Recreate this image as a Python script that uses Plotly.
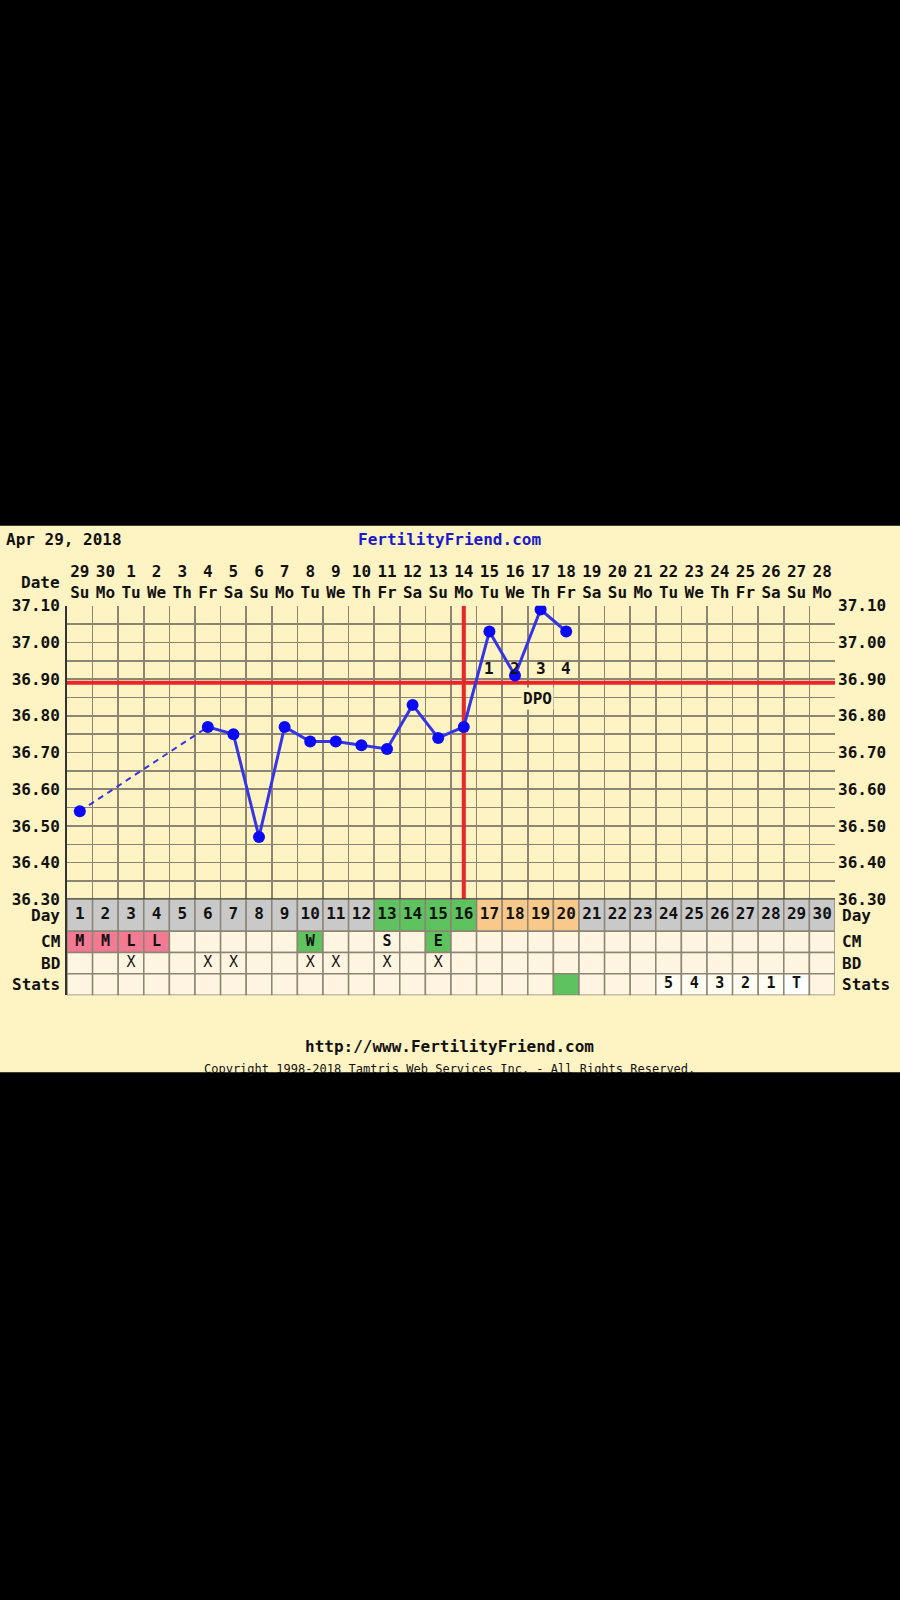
import plotly.graph_objects as go

# ---------------- data ----------------
cycle_days = [1, 2, 3, 4, 5, 6, 7, 8, 9, 10, 11, 12, 13, 14, 15,
              16, 17, 18, 19, 20, 21, 22, 23, 24, 25, 26, 27, 28, 29, 30]
dates = [29, 30, 1, 2, 3, 4, 5, 6, 7, 8, 9, 10, 11, 12, 13,
         14, 15, 16, 17, 18, 19, 20, 21, 22, 23, 24, 25, 26, 27, 28]
weekdays = ['Su', 'Mo', 'Tu', 'We', 'Th', 'Fr', 'Sa', 'Su', 'Mo', 'Tu',
            'We', 'Th', 'Fr', 'Sa', 'Su', 'Mo', 'Tu', 'We', 'Th', 'Fr',
            'Sa', 'Su', 'Mo', 'Tu', 'We', 'Th', 'Fr', 'Sa', 'Su', 'Mo']
temps = [36.54, None, None, None, None, 36.77, 36.75, 36.47, 36.77, 36.73,
         36.73, 36.72, 36.71, 36.83, 36.74, 36.77, 37.03, 36.91, 37.09, 37.03,
         None, None, None, None, None, None, None, None, None, None]
coverline = 36.89
ovulation_day = 16
fertile_days = [13, 14, 15, 16]
dpo_labels = ['1', '2', '3', '4']
cm_obs = ['M', 'M', 'L', 'L', '', '', '', '', '', 'W', '', '', 'S', '', 'E',
          '', '', '', '', '', '', '', '', '', '', '', '', '', '', '']
bd_obs = ['', '', 'X', '', '', 'X', 'X', '', '', 'X', 'X', '', 'X', '', 'X',
          '', '', '', '', '', '', '', '', '', '', '', '', '', '', '']
stats_obs = ['', '', '', '', '', '', '', '', '', '', '', '', '', '', '',
             '', '', '', '', '', '', '', '', '5', '4', '3', '2', '1', 'T', '']
stats_highlight_days = [20]
temp_ticks = [36.30, 36.40, 36.50, 36.60, 36.70, 36.80, 36.90, 37.00, 37.10]
temp_tick_labels = ['36.30', '36.40', '36.50', '36.60', '36.70',
                    '36.80', '36.90', '37.00', '37.10']
row_names = ['Day', 'CM', 'BD', 'Stats']

# ---------------- style ----------------
FONT = 'DejaVu Sans Mono'
BG = '#FEF3C3'
CELL = '#FFF5E0'
GRID = '#8C8574'
GRAY = '#C9C9C9'
GREEN = '#5EC25E'
ORANGE = '#F9C98C'
PINK = '#F27A92'
RED = '#E8262A'
BLUE = '#0A0AF5'
LINEBLUE = '#3535E6'
INK = '#111111'


def py(p):
    return 1 - p / 1600.0


def px(p):
    return p / 900.0


n = len(cycle_days)
x_lo, x_hi = cycle_days[0] - 0.5, cycle_days[-1] + 0.5
y_lo, y_hi = temp_ticks[0], temp_ticks[-1]

# row layout on y2 (Day row is taller)
row_span = {'Day': (2.5, 4.0), 'CM': (1.5, 2.5), 'BD': (0.5, 1.5), 'Stats': (-0.5, 0.5)}
row_mid = {k: (a + b) / 2 for k, (a, b) in row_span.items()}

fig = go.Figure()

# dashed segments across missing temperatures
valid = [i for i, t in enumerate(temps) if t is not None]
for a, b in zip(valid[:-1], valid[1:]):
    if b - a > 1:
        fig.add_trace(go.Scatter(
            x=[cycle_days[a], cycle_days[b]], y=[temps[a], temps[b]],
            mode='lines', line=dict(color=LINEBLUE, width=2, dash='6px,5px'),
            hoverinfo='skip', showlegend=False, xaxis='x', yaxis='y'))

fig.add_trace(go.Scatter(
    x=cycle_days, y=temps, mode='lines+markers', connectgaps=False,
    line=dict(color=LINEBLUE, width=3),
    marker=dict(color=BLUE, size=12),
    showlegend=False, xaxis='x', yaxis='y'))

# dummy for right axis
fig.add_trace(go.Scatter(x=[cycle_days[0]], y=[y_lo], mode='markers',
                         marker=dict(opacity=0), showlegend=False,
                         hoverinfo='skip', xaxis='x', yaxis='y3'))

# table cells
shapes = []
shapes.append(dict(type='rect', xref='paper', yref='paper', x0=0, x1=1,
                   y0=py(1076), y1=py(523), fillcolor=BG, line_width=0,
                   layer='below'))

dpo_days = [ovulation_day + k + 1 for k in range(len(dpo_labels))]
for i, d in enumerate(cycle_days):
    if d in fertile_days:
        fc = GREEN
    elif d in dpo_days:
        fc = ORANGE
    else:
        fc = GRAY
    cm = cm_obs[i]
    cm_fc = PINK if cm in ('M', 'L') else (GREEN if cm in ('W', 'E') else CELL)
    st = stats_obs[i]
    if d in stats_highlight_days:
        st_fc = GREEN
    elif st == 'T':
        st_fc = '#FFFFFF'
    elif st:
        st_fc = '#FFFCF2'
    else:
        st_fc = CELL
    for rn, col in (('Day', fc), ('CM', cm_fc), ('BD', CELL), ('Stats', st_fc)):
        a, b = row_span[rn]
        shapes.append(dict(type='rect', xref='x2', yref='y2', x0=d - 0.5, x1=d + 0.5,
                           y0=a, y1=b, fillcolor=col,
                           line=dict(color=GRID, width=1.5), layer='below'))

# coverline and ovulation line
shapes.append(dict(type='line', xref='x', yref='y', x0=x_lo, x1=x_hi,
                   y0=coverline, y1=coverline, line=dict(color=RED, width=4),
                   layer='between'))
shapes.append(dict(type='line', xref='x', yref='y', x0=ovulation_day, x1=ovulation_day,
                   y0=y_lo, y1=y_hi, line=dict(color=RED, width=4), layer='between'))
shapes.append(dict(type='line', xref='x', yref='y', x0=x_lo, x1=x_hi,
                   y0=y_lo, y1=y_lo, line=dict(color='#333333', width=2), layer='above'))

# table texts
fig.add_trace(go.Scatter(x=cycle_days, y=[row_mid['Day']] * n, mode='text',
                         text=[str(d) for d in cycle_days],
                         textfont=dict(family=FONT, size=16, color=INK, weight='bold'),
                         showlegend=False, hoverinfo='skip', xaxis='x2', yaxis='y2'))
for rn, vals in (('CM', cm_obs), ('BD', bd_obs), ('Stats', stats_obs)):
    xs = [d for d, v in zip(cycle_days, vals) if v]
    ts = [v for v in vals if v]
    fig.add_trace(go.Scatter(x=xs, y=[row_mid[rn]] * len(xs), mode='text', text=ts,
                             textfont=dict(family=FONT, size=15, color=INK,
                                           weight='normal' if rn == 'BD' else 'bold'),
                             showlegend=False, hoverinfo='skip', xaxis='x2', yaxis='y2'))

# annotations
ann = []
bold = dict(family=FONT, size=16, color=INK, weight='bold')
ann.append(dict(xref='paper', yref='paper', x=px(4), y=py(537), xanchor='left',
                yanchor='middle', text='Apr 29, 2018', showarrow=False, font=bold))
ann.append(dict(xref='paper', yref='paper', x=px(449), y=py(537), xanchor='center',
                yanchor='middle', text='FertilityFriend.com', showarrow=False,
                font=dict(family=FONT, size=16, color='#1A1ACC', weight='bold')))
ann.append(dict(xref='paper', yref='paper', x=px(449), y=py(1050), xanchor='center',
                yanchor='middle', text='http://www.FertilityFriend.com', showarrow=False,
                font=bold))
ann.append(dict(xref='paper', yref='paper', x=px(449), y=py(1073), xanchor='center',
                yanchor='middle',
                text='Copyright 1998-2018 Tamtris Web Services Inc. - All Rights Reserved.',
                showarrow=False, font=dict(family=FONT, size=12, color=INK)))
ann.append(dict(xref='paper', yref='paper', x=px(62), y=py(580), xanchor='right',
                yanchor='middle', text='Date', showarrow=False, font=bold))
for rn in row_names:
    ann.append(dict(xref='paper', yref='y2', x=px(62), y=row_mid[rn], xanchor='right',
                    yanchor='middle', text=rn, showarrow=False, font=bold))
    ann.append(dict(xref='paper', yref='y2', x=px(840), y=row_mid[rn], xanchor='left',
                    yanchor='middle', text=rn, showarrow=False, font=bold))
for d, lab in zip(dpo_days, dpo_labels):
    ann.append(dict(xref='x', yref='y', x=d, y=coverline, yanchor='bottom', yshift=3,
                    text=lab, showarrow=False, font=bold))
ann.append(dict(xref='x', yref='y', x=sum(dpo_days) / len(dpo_days), y=coverline,
                xshift=10, yanchor='top', yshift=-4, text='DPO', showarrow=False,
                font=bold, bgcolor=BG, borderpad=1))

tickfont = dict(family=FONT, size=16, color=INK, weight='bold')
mids = [(a + b) / 2 for a, b in zip(temp_ticks[:-1], temp_ticks[1:])]

fig.update_layout(
    width=900, height=1600,
    margin=dict(l=0, r=0, t=0, b=0),
    paper_bgcolor='#000000', plot_bgcolor=BG,
    font=dict(family=FONT, size=16, color=INK),
    showlegend=False,
    shapes=shapes, annotations=ann,
    xaxis=dict(domain=[px(67), px(835)], range=[x_lo, x_hi], anchor='y', side='top',
               tickmode='array', tickvals=cycle_days,
               ticktext=[f'{a}<br>{b}' for a, b in zip(dates, weekdays)],
               tickfont=tickfont, ticks='', showgrid=False, zeroline=False,
               ticklabelstandoff=4,
               minor=dict(tickmode='array', tickvals=[d - 0.5 for d in cycle_days] + [x_hi],
                          showgrid=True, gridcolor=GRID, gridwidth=1.5, ticks='')),
    yaxis=dict(domain=[py(901), py(604)], range=[y_lo, y_hi], anchor='x',
               tickmode='array', tickvals=temp_ticks, ticktext=temp_tick_labels,
               tickfont=tickfont, ticks='', showgrid=True, gridcolor=GRID, gridwidth=1.5,
               zeroline=False, showline=True, linecolor='#333333', linewidth=2,
               ticklabelstandoff=2,
               minor=dict(tickmode='array', tickvals=mids, showgrid=True,
                          gridcolor=GRID, gridwidth=1.5, ticks='')),
    yaxis3=dict(overlaying='y', side='right', range=[y_lo, y_hi], anchor='x',
                tickmode='array', tickvals=temp_ticks, ticktext=temp_tick_labels,
                tickfont=tickfont, ticks='', showgrid=False, zeroline=False,
                ticklabelstandoff=2),
    xaxis2=dict(domain=[px(67), px(835)], range=[x_lo, x_hi], anchor='y2',
                showticklabels=False, showgrid=False, zeroline=False, ticks=''),
    yaxis2=dict(domain=[py(998), py(901)], range=[-0.5, 4.0], anchor='x2',
                showticklabels=False, showgrid=False, zeroline=False, ticks='',
                showline=True, linecolor='#333333', linewidth=2),
)

fig.write_html('out.html',
               config={'displayModeBar': False, 'staticPlot': True},
               post_script="document.body.style.margin='0';"
                           "document.body.style.background='#000';")
